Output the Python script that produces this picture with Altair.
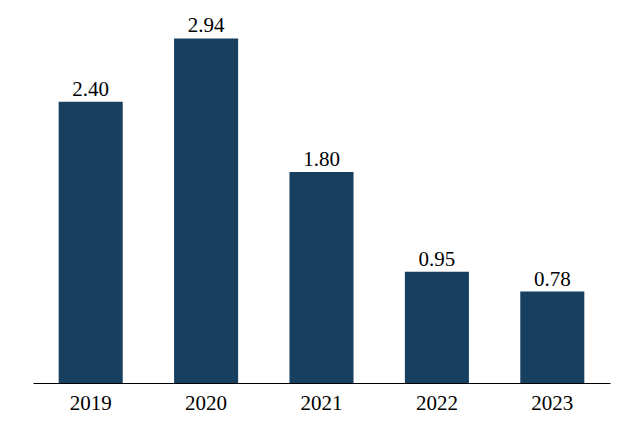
import altair as alt
import pandas as pd

years = ["2019", "2020", "2021", "2022", "2023"]
values = [2.40, 2.94, 1.80, 0.95, 0.78]

df = pd.DataFrame({"year": years, "value": values})
df["label"] = [f"{v:.2f}" for v in values]

FONT = "'Times New Roman', 'Liberation Serif', serif"

x = alt.X("year:N", sort=years, title=None,
          scale=alt.Scale(paddingInner=0.445, paddingOuter=0.2225),
          axis=alt.Axis(labelAngle=0, ticks=False, domain=True, domainColor="#000000",
                        domainWidth=1.2, labelFont=FONT, labelFontSize=21,
                        labelColor="#000000", labelPadding=9, grid=False))
y = alt.Y("value:Q", title=None, scale=alt.Scale(domain=[0, 3.2], nice=False),
          axis=None)

bars = alt.Chart(df).mark_bar(color="#173f5f").encode(x=x, y=y)
text = alt.Chart(df).mark_text(dy=-6, baseline="alphabetic", font=FONT, fontSize=21,
                               color="#000000").encode(x=x, y=y, text="label:N")

chart = (bars + text).properties(
    width=577, height=375,
    background="#ffffff",
    autosize=alt.AutoSizeParams(type="none"),
    padding={"left": 25, "top": 0, "right": 10, "bottom": 38},
).configure_view(strokeWidth=0, stroke="transparent")

chart.save("out.html", embed_options={"renderer": "svg", "actions": False})
